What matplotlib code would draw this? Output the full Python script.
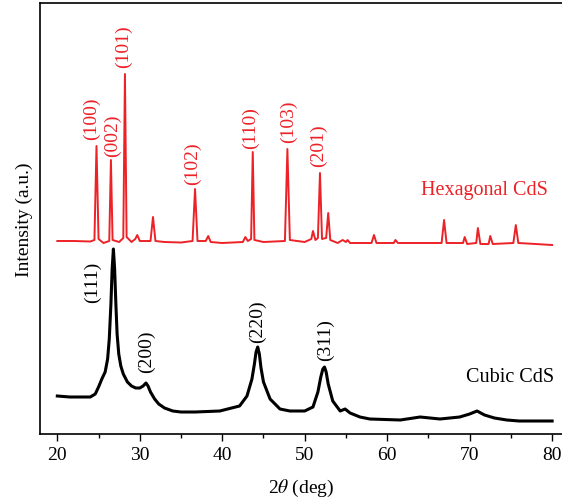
import matplotlib
matplotlib.use("Agg")
import matplotlib.pyplot as plt
from matplotlib.ticker import MultipleLocator

plt.rcParams["font.family"] = ["Liberation Serif", "DejaVu Serif"]
plt.rcParams["mathtext.fontset"] = "stix"

RED = "#ec2227"

# ---------------------------------------------------------------------------
# Traces (2theta in deg, intensity in arbitrary units)
# ---------------------------------------------------------------------------
hex_2theta = [20.0, 22.0, 24.0, 24.5, 24.75, 25.0, 25.6, 26.3, 26.5, 26.7,
              27.5, 28.0, 28.2, 28.4, 29.0, 29.45, 29.7, 30.0, 31.3, 31.6,
              31.9, 33.0, 35.0, 36.4, 36.7, 37.0, 38.0, 38.3, 38.6, 40.0,
              42.5, 42.8, 43.1, 43.5, 43.7, 43.9, 45.0, 47.6, 47.9, 48.2,
              50.0, 50.8, 51.0, 51.3, 51.6, 51.85, 52.1, 52.6, 52.85, 53.1,
              54.0, 54.6, 55.0, 55.2, 55.5, 58.1, 58.4, 58.7, 60.8, 61.0,
              61.3, 66.6, 66.9, 67.2, 69.2, 69.4, 69.7, 70.8, 71.0, 71.3,
              72.3, 72.5, 72.8, 75.3, 75.6, 75.9, 78.0, 80.0]
hex_counts = [193, 193, 192.5, 194, 288, 195, 191, 193, 274, 194,
              192, 196, 360, 197, 192, 195, 199, 193, 193, 217,
              193, 192, 191.5, 193, 245, 193, 193, 198, 192, 191,
              192, 197, 193, 195, 282, 194, 192, 193, 285, 194,
              192, 195, 203, 194, 196, 261, 195, 196, 221, 194,
              191, 194, 192, 194, 191, 191, 199, 191, 191, 194,
              191, 191, 214, 191, 191, 197, 190, 191, 206, 190,
              190, 198, 190, 191, 209, 191, 190, 189]

cub_2theta = [20.0, 21.5, 24.0, 24.6, 25.0, 25.4, 25.8, 26.1, 26.3, 26.5,
              26.65, 26.8, 26.95, 27.1, 27.25, 27.45, 27.7, 28.0, 28.5, 29.0,
              29.5, 30.0, 30.4, 30.75, 31.0, 31.3, 31.8, 32.3, 33.0, 34.0,
              35.0, 36.7, 39.7, 42.1, 43.0, 43.6, 43.9, 44.1, 44.3, 44.5,
              44.7, 45.0, 45.8, 47.0, 48.2, 50.0, 51.0, 51.6, 51.95, 52.2,
              52.4, 52.6, 52.85, 53.4, 54.3, 54.9, 55.5, 56.7, 57.9, 61.6,
              64.0, 66.4, 68.8, 70.0, 70.9, 71.8, 73.0, 74.5, 76.0, 80.0]
cub_counts = [38, 37, 37, 40, 47, 55, 62, 75, 95, 130,
              165, 185, 165, 130, 100, 80, 68, 60, 52, 48,
              46, 46, 48, 51, 48, 42, 35, 30, 26, 23,
              22, 22, 23, 28, 38, 55, 70, 82, 87, 80,
              66, 52, 35, 25, 23, 23, 27, 42, 57, 65,
              67, 62, 50, 33, 23, 25, 21, 17, 15, 14,
              17, 15, 17, 20, 23, 19, 16, 14, 13, 13]

# Miller-index labels: text, 2theta position, height of the label foot
hex_hkl = ["(100)", "(002)", "(101)", "(102)", "(110)", "(103)", "(201)"]
hex_hkl_x = [24.17, 26.73, 28.08, 36.39, 43.42, 47.99, 51.64]
hex_hkl_y = [295, 278, 367, 250, 286, 292, 268]

cub_hkl = ["(111)", "(200)", "(220)", "(311)"]
cub_hkl_x = [24.27, 30.84, 44.30, 52.48]
cub_hkl_y = [132, 62, 92, 74]

# ---------------------------------------------------------------------------
fig = plt.figure(figsize=(5.62, 5.02), dpi=100)
ax = fig.add_axes([40 / 562, 67 / 502, 1 - 40 / 562, 431 / 502])

ax.plot(hex_2theta, hex_counts, color=RED, linewidth=1.4)
ax.plot(cub_2theta, cub_counts, color="black", linewidth=2.2)

for lab, x, y in zip(hex_hkl, hex_hkl_x, hex_hkl_y):
    ax.text(x, y, lab, rotation=90, ha="center", va="bottom",
            color=RED, fontsize=14)
for lab, x, y in zip(cub_hkl, cub_hkl_x, cub_hkl_y):
    ax.text(x, y, lab, rotation=90, ha="center", va="bottom",
            color="black", fontsize=14)

ax.text(79.5, 244, "Hexagonal CdS", ha="right", va="center",
        color=RED, fontsize=14.5)
ax.text(80.2, 58, "Cubic CdS", ha="right", va="center",
        color="black", fontsize=14.5)

ax.set_xlim(17.9, 81.2)
ax.set_ylim(0, 431)
ax.xaxis.set_major_locator(MultipleLocator(10))
ax.xaxis.set_minor_locator(MultipleLocator(5))
ax.set_yticks([])
ax.tick_params(axis="x", which="major", direction="out", length=5,
               width=1, labelsize=14, top=False)
ax.tick_params(axis="x", which="minor", direction="out", length=3,
               width=1, top=False)
ax.spines["right"].set_visible(False)
for side in ("left", "top", "bottom"):
    ax.spines[side].set_linewidth(1.2)

ax.set_xlabel(r"2$\theta$ (deg)", fontsize=14, labelpad=10)
ax.set_ylabel("Intensity (a.u.)", fontsize=14, labelpad=5)

fig.savefig("out.png", dpi=100)
